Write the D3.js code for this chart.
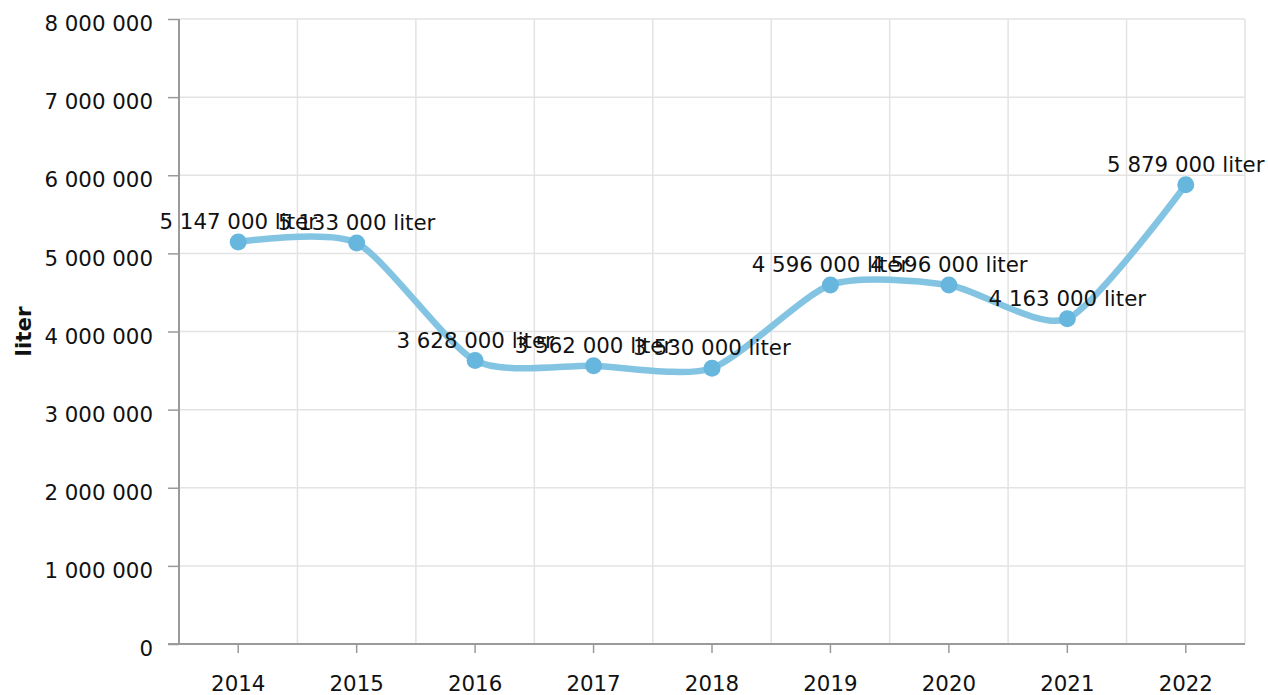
<!DOCTYPE html>
<html>
<head>
<meta charset="utf-8">
<script src="https://cdn.jsdelivr.net/npm/d3@7"></script>
<style>
  body { margin: 0; background: #fff; }
  svg { display: block; font-family: "DejaVu Sans", Verdana, sans-serif; }
</style>
</head>
<body>
<svg id="chart" width="1268" height="695"></svg>
<script>
const years = ['2014', '2015', '2016', '2017', '2018', '2019', '2020', '2021', '2022'];
const values = [5147000, 5133000, 3628000, 3562000, 3530000, 4596000, 4596000, 4163000, 5879000];
const yTicks = [0, 1000000, 2000000, 3000000, 4000000, 5000000, 6000000, 7000000, 8000000];
const unit = 'liter';

const width = 1268;
const height = 695;
const margin = { top: 19, right: 23, bottom: 51, left: 179 };
const fontSize = 21.33;
const fontFamily = '"DejaVu Sans", Verdana, sans-serif';
const lineColor = '#84c4e3';
const dotColor = '#66b6dd';

const fmt = v => d3.format(',')(v).replace(/,/g, ' ');

const svg = d3.select('#chart');
const g = svg.append('g')
  .attr('transform', `translate(${margin.left}, ${margin.top})`);

const innerW = width - margin.left - margin.right;
const innerH = height - margin.top - margin.bottom;

const xScale = d3.scaleBand()
  .domain(years)
  .range([0, innerW]);

const yScale = d3.scaleLinear()
  .domain([0, 8000000])
  .range([innerH, 0]);

// horizontal grid
g.append('g')
  .selectAll('line')
  .data(yTicks.slice(1))
  .enter()
  .append('line')
  .attr('x1', 0)
  .attr('x2', innerW)
  .attr('y1', d => yScale(d))
  .attr('y2', d => yScale(d))
  .attr('stroke', '#e3e3e3')
  .attr('stroke-width', 1.5);

// vertical grid at band edges
g.append('g')
  .selectAll('line')
  .data(years)
  .enter()
  .append('line')
  .attr('x1', d => xScale(d) + xScale.bandwidth())
  .attr('x2', d => xScale(d) + xScale.bandwidth())
  .attr('y1', 0)
  .attr('y2', innerH)
  .attr('stroke', '#e3e3e3')
  .attr('stroke-width', 1.5);

// y axis
const yAxis = d3.axisLeft(yScale)
  .tickValues(yTicks)
  .tickSize(11)
  .tickPadding(15)
  .tickFormat(fmt);

const yG = g.append('g')
  .call(yAxis)
  .attr('font-family', fontFamily)
  .attr('font-size', fontSize);
yG.select('.domain').attr('stroke', '#9a9a9a').attr('stroke-width', 2)
  .attr('d', `M0,0V${innerH}`);
yG.selectAll('.tick line').attr('stroke', '#9a9a9a').attr('stroke-width', 1.5);
yG.selectAll('.tick text')
  .attr('fill', '#111')
  .attr('dy', '0.55em');

// x axis
const xAxis = d3.axisBottom(xScale)
  .tickSize(9)
  .tickPadding(23);

const xG = g.append('g')
  .attr('transform', `translate(0, ${innerH})`)
  .call(xAxis)
  .attr('font-family', fontFamily)
  .attr('font-size', fontSize);
xG.select('.domain').attr('stroke', '#9a9a9a').attr('stroke-width', 2)
  .attr('d', `M-11,0H${innerW}`);
xG.selectAll('.tick line').attr('stroke', '#9a9a9a').attr('stroke-width', 1.5);
xG.selectAll('.tick text')
  .attr('fill', '#111');

// axis title
svg.append('text')
  .attr('transform', `translate(31, ${margin.top + innerH / 2}) rotate(-90)`)
  .attr('text-anchor', 'middle')
  .attr('font-size', fontSize)
  .attr('font-weight', 'bold')
  .attr('fill', '#111')
  .text(unit);

const points = years.map((y, i) => ({ year: y, value: values[i] }));
const cx = d => xScale(d.year) + xScale.bandwidth() / 2;

const line = d3.line()
  .x(cx)
  .y(d => yScale(d.value))
  .curve(d3.curveCardinal.tension(0.3));

g.append('path')
  .datum(points)
  .attr('d', line)
  .attr('fill', 'none')
  .attr('stroke', lineColor)
  .attr('stroke-width', 6.5)
  .attr('stroke-linecap', 'round');

g.append('g')
  .selectAll('circle')
  .data(points)
  .enter()
  .append('circle')
  .attr('cx', cx)
  .attr('cy', d => yScale(d.value))
  .attr('r', 8.5)
  .attr('fill', dotColor);

g.append('g')
  .selectAll('text')
  .data(points)
  .enter()
  .append('text')
  .attr('x', cx)
  .attr('y', d => yScale(d.value) - 13)
  .attr('text-anchor', 'middle')
  .attr('font-size', fontSize)
  .attr('fill', '#111')
  .text(d => `${fmt(d.value)} ${unit}`);
</script>
</body>
</html>
